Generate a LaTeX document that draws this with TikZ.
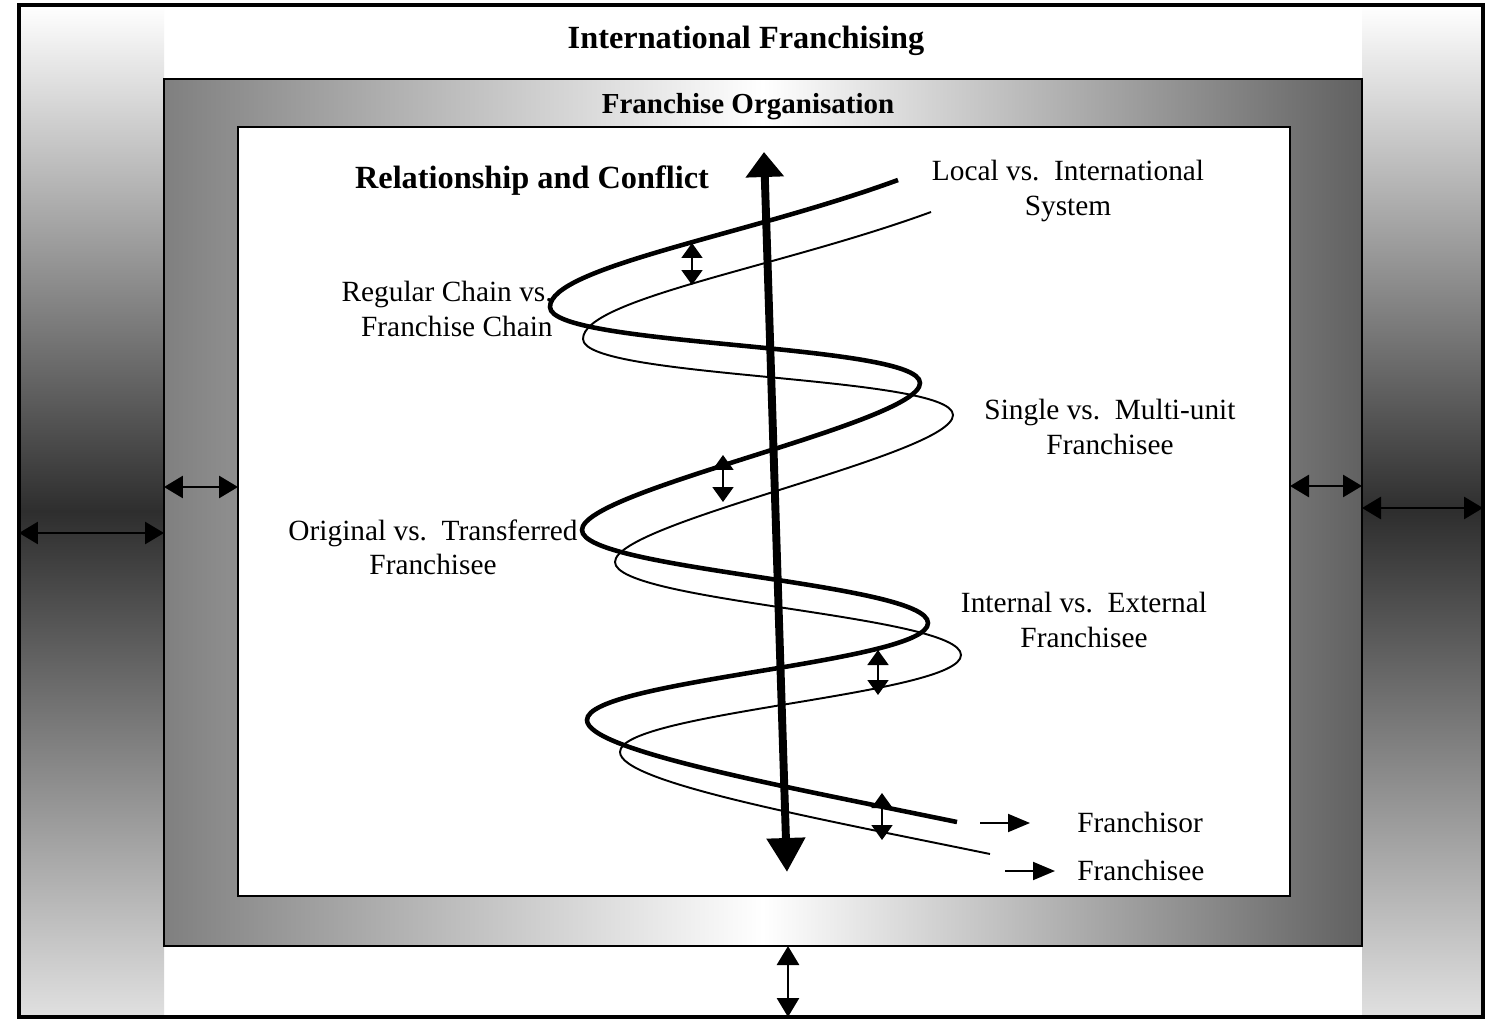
\documentclass[tikz,border=0pt]{standalone}
\usepackage{fontspec}
\setmainfont{Liberation Serif}
\usetikzlibrary{arrows.meta}

\begin{document}
\begin{tikzpicture}[x=0.02cm,y=-0.02cm,
  lbl/.style={font=\fontsize{16.7}{19.4}\selectfont, align=center, inner sep=0pt},
  ttl/.style={font=\bfseries\fontsize{18.4}{21}\selectfont, inner sep=0pt},
  side/.style={top color=white, bottom color=black!12, middle color=black!82},
  frarr/.style={line width=1.6pt, <->, >={Triangle[length=0.38cm,width=0.44cm]}},
  gap/.style={line width=1.1pt, <->, >={Triangle[length=0.3cm,width=0.42cm]}},
  tipto/.style={line width=1.1pt, ->, >={Triangle[length=0.44cm,width=0.36cm]}}]
\useasboundingbox (0,0) rectangle (1502,1024);
% frames
\coordinate (o1) at (19,5);
\coordinate (o2) at (1483,1017);
\coordinate (m1) at (164,79);
\coordinate (m2) at (1362,946);
\coordinate (i1) at (238,127);
\coordinate (i2) at (1290,896);
\fill[white] (o1) rectangle (o2);
\shade[side] (o1) rectangle (m1 |- o2);
\shade[side] (m2 |- o1) rectangle (o2);
\draw[line width=2.3pt] (o1) rectangle (o2);
\shade[left color=black!50, right color=black!62, middle color=white] (m1) rectangle (m2);
\draw[line width=1.4pt] (m1) rectangle (m2);
\filldraw[fill=white, line width=1.1pt] (i1) rectangle (i2);
\draw[frarr] (o1 |- 0,533) -- (m1 |- 0,533);
\draw[frarr] (m1 |- 0,487) -- (i1 |- 0,487);
\draw[frarr] (i2 |- 0,486) -- (m2 |- 0,486);
\draw[frarr] (m2 |- 0,508) -- (o2 |- 0,508);
\draw[frarr] (788,0 |- m2) -- (788,0 |- o2);
% the two strands
\foreach \dx/\dy/\w in {0/0/2.6pt, 33/32/1.1pt}
  \draw[line width=\w, shift={(\dx,\dy)}] (898,180) .. controls (748,235) and (550,267) .. (550,307)
    .. controls (550,347) and (920,343) .. (920,383)
    .. controls (920,423) and (582,490) .. (582,530)
    .. controls (582,570) and (928,583) .. (928,623)
    .. controls (928,663) and (587,680) .. (587,720)
    .. controls (587,750) and (777,785) .. (957,822);
\foreach \i/\x/\ya/\yb in {1/692/243/285, 2/723/455/502, 3/878/650/695, 4/882/793/840} {
  \coordinate (gt\i) at (\x,\ya);
  \coordinate (gb\i) at (\x,\yb);
  \draw[gap] (gt\i) -- (gb\i);
}
\coordinate (axtop) at (764,152);
\coordinate (axbot) at (787,872);
\draw[line width=4.5pt, {Triangle[length=0.68cm,width=0.74cm]}-{Triangle[length=0.5cm,width=0.74cm]}] (axbot) -- (axtop);
% texts
\node[ttl] (intl) at (746,41) {International Franchising};
\node[ttl, font=\bfseries\fontsize{16.5}{19}\selectfont] (org) at (748,107) {Franchise Organisation};
\node[ttl] (rel) at (532,181) {Relationship and Conflict};
\node[lbl] (local) at (1068,191) {Local vs.\ \ International\\System};
\node[lbl, align=right, anchor=east] (regular) at (553,309) {Regular Chain vs.\\Franchise Chain};
\node[lbl] (single) at (1110,427) {Single vs.\ \ Multi-unit\\Franchisee};
\node[lbl] (original) at (433,547) {Original vs.\ \ Transferred\\Franchisee};
\node[lbl] (internal) at (1084,620) {Internal vs.\ \ External\\Franchisee};
\node[lbl, anchor=west] (fsor) at (1077,822) {Franchisor};
\node[lbl, anchor=west] (fsee) at (1077,870) {Franchisee};
\draw[tipto] ([xshift=-1.94cm]fsor.west |- 0,823) -- ([xshift=-0.94cm]fsor.west |- 0,823);
\draw[tipto] ([xshift=-1.44cm]fsee.west |- 0,871) -- ([xshift=-0.44cm]fsee.west |- 0,871);
\end{tikzpicture}
\end{document}
